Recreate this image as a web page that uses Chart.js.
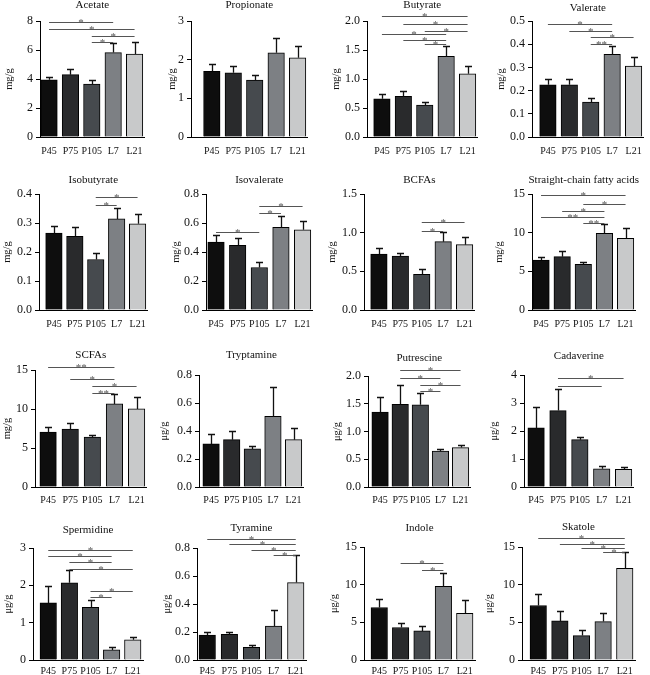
<!DOCTYPE html>
<html><head><meta charset="utf-8">
<script src="https://cdn.jsdelivr.net/npm/chart.js@4.4.0/dist/chart.umd.min.js"></script>
<style>
html,body{margin:0;padding:0;background:#fff;}
#wrap{position:relative;width:650px;height:675px;overflow:hidden;background:#fff;}
canvas{position:absolute;}
</style></head><body><div id="wrap"></div>
<script>
const categories = ['P45','P75','P105','L7','L21'];
const barColors = ['#0e0e0e','#292a2c','#464a4e','#7d8084','#c8c9ca'];

const acetateMeans = [3.95,4.30,3.65,5.82,5.72];
const acetateErrors = [0.17,0.36,0.29,0.68,0.84];
const acetateTicks = ['0','2','4','6','8'];
const acetateSig = [[0,3,7.95,'*'],[0,4,7.45,'*'],[2,4,7.0,'*'],[2,3,6.54,'*']];

const propionateMeans = [1.70,1.66,1.47,2.18,2.05];
const propionateErrors = [0.19,0.18,0.14,0.37,0.31];
const propionateTicks = ['0','1','2','3'];
const propionateSig = [];

const butyrateMeans = [0.66,0.70,0.55,1.39,1.09];
const butyrateErrors = [0.09,0.10,0.06,0.18,0.14];
const butyrateTicks = ['0.0','0.5','1.0','1.5','2.0'];
const butyrateSig = [[0,4,2.09,'*'],[1,4,1.95,'*'],[2,4,1.83,'*'],[0,3,1.77,'*'],[1,3,1.68,'*'],[2,3,1.61,'*']];

const valerateMeans = [0.225,0.225,0.150,0.356,0.306];
const valerateErrors = [0.025,0.025,0.018,0.036,0.037];
const valerateTicks = ['0.0','0.1','0.2','0.3','0.4','0.5'];
const valerateSig = [[0,3,0.489,'*'],[1,3,0.456,'*'],[2,4,0.432,'*'],[2,3,0.403,'**']];

const isobutyrateMeans = [0.265,0.254,0.174,0.314,0.297];
const isobutyrateErrors = [0.026,0.032,0.023,0.037,0.033];
const isobutyrateTicks = ['0.0','0.1','0.2','0.3','0.4'];
const isobutyrateSig = [[2,4,0.389,'*'],[2,3,0.361,'*']];

const isovalerateMeans = [0.469,0.446,0.293,0.571,0.553];
const isovalerateErrors = [0.050,0.050,0.041,0.074,0.060];
const isovalerateTicks = ['0.0','0.2','0.4','0.6','0.8'];
const isovalerateSig = [[2,4,0.72,'*'],[2,3,0.667,'*'],[0,2,0.539,'*']];

const bcfaMeans = [0.724,0.698,0.461,0.884,0.845];
const bcfaErrors = [0.073,0.035,0.065,0.129,0.103];
const bcfaTicks = ['0.0','0.5','1.0','1.5'];
const bcfaSig = [[2,4,1.134,'*'],[2,3,1.022,'*']];

const straightMeans = [6.47,6.90,5.90,9.91,9.27];
const straightErrors = [0.34,0.69,0.35,1.17,1.29];
const straightTicks = ['0','5','10','15'];
const straightSig = [[0,4,14.87,'*'],[2,4,13.66,'*'],[1,3,12.84,'*'],[0,3,12.07,'**'],[2,3,11.29,'**']];

const scfaMeans = [7.03,7.41,6.39,10.65,10.01];
const scfaErrors = [0.64,0.85,0.34,1.24,1.49];
const scfaTicks = ['0','5','10','15'];
const scfaSig = [[0,3,15.34,'**'],[1,3,13.89,'*'],[2,4,13.0,'*'],[2,3,12.1,'**']];

const tryptamineMeans = [0.308,0.338,0.272,0.504,0.338];
const tryptamineErrors = [0.071,0.060,0.019,0.208,0.083];
const tryptamineTicks = ['0.0','0.2','0.4','0.6','0.8'];
const tryptamineSig = [];

const putrescineMeans = [1.35,1.49,1.48,0.645,0.71];
const putrescineErrors = [0.27,0.35,0.21,0.042,0.048];
const putrescineTicks = ['0.0','0.5','1.0','1.5','2.0'];
const putrescineSig = [[1,4,2.10,'*'],[1,3,1.96,'*'],[2,4,1.84,'*'],[2,3,1.73,'*']];

const cadaverineMeans = [2.11,2.73,1.69,0.65,0.63];
const cadaverineErrors = [0.74,0.76,0.09,0.10,0.09];
const cadaverineTicks = ['0','1','2','3','4'];
const cadaverineSig = [[1,4,3.91,'*'],[1,3,3.62,'']];

const spermidineMeans = [1.53,2.07,1.41,0.27,0.54];
const spermidineErrors = [0.46,0.33,0.19,0.07,0.07];
const spermidineTicks = ['0','1','2','3'];
const spermidineSig = [[0,4,2.94,'*'],[0,3,2.78,'*'],[1,3,2.63,'*'],[1,4,2.45,'*'],[2,4,1.84,'*'],[2,3,1.69,'*']];

const tyramineMeans = [0.178,0.183,0.090,0.242,0.553];
const tyramineErrors = [0.024,0.019,0.017,0.114,0.195];
const tyramineTicks = ['0.0','0.2','0.4','0.6','0.8'];
const tyramineSig = [[0,4,0.867,'*'],[1,4,0.827,'*'],[2,4,0.789,'*'],[3,4,0.748,'*']];

const indoleMeans = [6.97,4.31,3.86,9.77,6.21];
const indoleErrors = [1.15,0.57,0.67,1.77,1.78];
const indoleTicks = ['0','5','10','15'];
const indoleSig = [[1,3,12.83,'*'],[2,3,11.94,'*']];

const skatoleMeans = [7.23,5.19,3.24,5.10,12.16];
const skatoleErrors = [1.56,1.25,0.75,1.20,2.18];
const skatoleTicks = ['0','5','10','15'];
const skatoleSig = [[0,4,16.2,'*'],[1,4,15.45,'*'],[2,4,14.87,'*'],[3,4,14.29,'*']];

const panels = [
  ['Acetate','mg/g',acetateMeans,acetateErrors,acetateTicks,acetateSig],
  ['Propionate','mg/g',propionateMeans,propionateErrors,propionateTicks,propionateSig],
  ['Butyrate','mg/g',butyrateMeans,butyrateErrors,butyrateTicks,butyrateSig],
  ['Valerate','mg/g',valerateMeans,valerateErrors,valerateTicks,valerateSig],
  ['Isobutyrate','mg/g',isobutyrateMeans,isobutyrateErrors,isobutyrateTicks,isobutyrateSig],
  ['Isovalerate','mg/g',isovalerateMeans,isovalerateErrors,isovalerateTicks,isovalerateSig],
  ['BCFAs','mg/g',bcfaMeans,bcfaErrors,bcfaTicks,bcfaSig],
  ['Straight-chain fatty acids','mg/g',straightMeans,straightErrors,straightTicks,straightSig],
  ['SCFAs','mg/g',scfaMeans,scfaErrors,scfaTicks,scfaSig],
  ['Tryptamine','\u03bcg/g',tryptamineMeans,tryptamineErrors,tryptamineTicks,tryptamineSig],
  ['Putrescine','\u03bcg/g',putrescineMeans,putrescineErrors,putrescineTicks,putrescineSig],
  ['Cadaverine','\u03bcg/g',cadaverineMeans,cadaverineErrors,cadaverineTicks,cadaverineSig],
  ['Spermidine','\u03bcg/g',spermidineMeans,spermidineErrors,spermidineTicks,spermidineSig],
  ['Tyramine','\u03bcg/g',tyramineMeans,tyramineErrors,tyramineTicks,tyramineSig],
  ['Indole','\u03bcg/g',indoleMeans,indoleErrors,indoleTicks,indoleSig],
  ['Skatole','\u03bcg/g',skatoleMeans,skatoleErrors,skatoleTicks,skatoleSig]
];

// layout (pixels): yLabelX, axisX, firstBarLeft, lastBarRight, titleY, topTickY, zeroY, xLabelY
const layout = [
  [10,40,41,145,5,21,137,151],[173,191,204,308,5,21,137,151],[337,367,374,478,5,21,137,151],[502,532,540,644,8,21,137,151],
  [8,39,46,148,180,194,310,324],[177,206,208,313,180,194,310,324],[333,364,371,475,180,194,310,324],[500,532,533,636,180,194,310,324],
  [8,35,40,146,355,370,487,500],[165,199,203,303,355,375,487,500],[338,368,372,470,358,376,487,500],[495,524,528,633,356,375,487,500],
  [9,33,40,141,530,548,660,671],[168,197,199,304,528,548,660,671],[335,364,371,473,528,547,660,671],[490,522,530,633,527,547,660,671]
];

const FONT = '"Liberation Serif", "Times New Roman", serif';
const BAR_W = 16.5;

const extrasPlugin = {
  id: 'extras',
  afterDatasetsDraw(chart, args, opts) {
    const {ctx, chartArea, scales} = chart;
    const x = scales.x, y = scales.y;
    const p = opts.panel;
    ctx.save();
    ctx.strokeStyle = '#111'; ctx.lineWidth = 1.3;
    p.means.forEach((m, i) => {
      const px = Math.round(x.getPixelForValue(i)) + 0.5;
      const y0 = y.getPixelForValue(m);
      const y1 = Math.round(y.getPixelForValue(m + p.errors[i])) + 0.5;
      ctx.beginPath();
      ctx.moveTo(px, y0); ctx.lineTo(px, y1);
      ctx.moveTo(px - 3.5, y1); ctx.lineTo(px + 3.5, y1);
      ctx.stroke();
    });
    ctx.strokeStyle = '#555'; ctx.fillStyle = '#555'; ctx.lineWidth = 1;
    ctx.font = '11px ' + FONT; ctx.textAlign = 'center'; ctx.textBaseline = 'alphabetic';
    p.sig.forEach(([a, b, v, label]) => {
      const x1 = x.getPixelForValue(a), x2 = x.getPixelForValue(b);
      const yy = Math.round(y.getPixelForValue(v)) + 0.5;
      ctx.beginPath(); ctx.moveTo(x1, yy); ctx.lineTo(x2, yy); ctx.stroke();
      if (label) ctx.fillText(label, (x1 + x2) / 2, yy + 3.5);
    });
    ctx.fillStyle = '#111'; ctx.font = '11px ' + FONT; ctx.textBaseline = 'middle';
    ctx.fillText(p.title, (chartArea.left + chartArea.right) / 2, opts.titleY);
    ctx.restore();
  }
};

const wrap = document.getElementById('wrap');
panels.forEach((row, k) => {
  const [title, unit, means, errors, ticks, sig] = row;
  const [ylabX, axisX, firstBar, lastBar, titleY, topY, zeroY, xLabelY] = layout[k];
  const cLeft = Math.max(0, ylabX - 7);
  const cTop = Math.max(0, titleY - 10);
  const plotRight = lastBar + 2;
  const cWidth = plotRight + 4 - cLeft;
  const xAxisH = 22;
  const cHeight = zeroY + xAxisH - cTop;
  const spacing = (lastBar - firstBar - BAR_W) / 4;
  const xMin = -(firstBar + BAR_W / 2 - axisX) / spacing;
  const xMax = 4 + (plotRight - (lastBar - BAR_W / 2)) / spacing;
  const yMax = parseFloat(ticks[ticks.length - 1]);
  const xPad = xLabelY - zeroY - 6;

  const cv = document.createElement('canvas');
  cv.width = cWidth; cv.height = cHeight;
  cv.style.left = cLeft + 'px'; cv.style.top = cTop + 'px';
  cv.style.width = cWidth + 'px'; cv.style.height = cHeight + 'px';
  wrap.appendChild(cv);

  new Chart(cv, {
    type: 'bar',
    data: {
      datasets: [{
        data: means.map((v, i) => ({x: i, y: v})),
        backgroundColor: barColors,
        borderColor: '#000',
        borderWidth: 1,
        barThickness: BAR_W
      }]
    },
    options: {
      responsive: false,
      animation: false,
      devicePixelRatio: 1,
      layout: {padding: {left: 0, right: 4, top: topY - cTop, bottom: 0}},
      plugins: {
        legend: {display: false},
        tooltip: {enabled: false},
        title: {display: false},
        extras: {panel: {title, means, errors, sig}, titleY: titleY - cTop}
      },
      scales: {
        x: {
          type: 'linear',
          offset: false,
          min: xMin, max: xMax,
          grid: {display: false, offset: false, drawTicks: false},
          border: {display: true, color: '#000', width: 1},
          afterBuildTicks: s => { s.ticks = categories.map((c, i) => ({value: i})); },
          afterFit: s => { s.height = xAxisH; },
          ticks: {
            autoSkip: false, maxRotation: 0, padding: xPad,
            color: '#111', font: {family: FONT, size: 10},
            callback: v => categories[v]
          }
        },
        y: {
          type: 'linear',
          min: 0, max: yMax,
          grid: {display: true, drawOnChartArea: false, drawTicks: true, tickLength: 4, color: '#000'},
          border: {display: true, color: '#000', width: 1},
          afterBuildTicks: s => { s.ticks = ticks.map(t => ({value: parseFloat(t)})); },
          afterFit: s => { s.width = axisX - cLeft; },
          ticks: {
            padding: 3, color: '#111', font: {family: FONT, size: 12},
            callback: (v, idx) => ticks[idx]
          },
          title: {display: true, text: unit, padding: 0, color: '#111', font: {family: FONT, size: 10.5}}
        }
      }
    },
    plugins: [extrasPlugin]
  });
});
</script>
</body></html>
